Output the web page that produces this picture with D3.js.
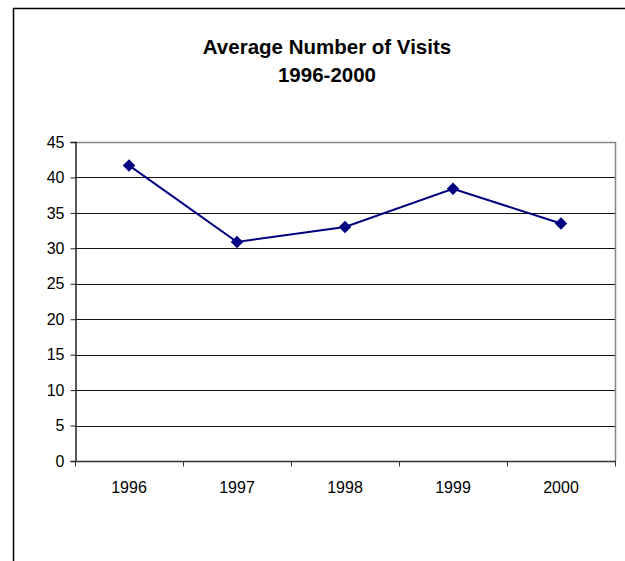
<!DOCTYPE html>
<html>
<head>
<meta charset="utf-8">
<script src="https://cdn.jsdelivr.net/npm/d3@7"></script>
<style>
  body { margin: 0; background: #fff; }
  svg { display: block; font-family: Arial, "Liberation Sans", sans-serif; }
</style>
</head>
<body>
<div id="chart"></div>
<script>
// chart data
var years = ["1996", "1997", "1998", "1999", "2000"];
var visits = [41.7, 30.9, 33.0, 38.4, 33.5];
var yTicks = [0, 5, 10, 15, 20, 25, 30, 35, 40, 45];
var titleLines = ["Average Number of Visits", "1996-2000"];

var svg = d3.select("#chart").append("svg").attr("width", 625).attr("height", 561);

// outer chart border (runs off the right and bottom of the window)
svg.append("rect").attr("x", 13.5).attr("y", 8.5).attr("width", 700).attr("height", 700)
    .attr("fill", "none").attr("stroke", "#000").attr("stroke-width", 1.5);

var plotLeft = 75, plotTop = 142, plotRight = 615, plotBottom = 461;

var x = d3.scaleBand().domain(years).range([plotLeft, plotRight]);
var y = d3.scaleLinear().domain([0, 45]).range([plotBottom, plotTop]);

// title
svg.selectAll("text.title").data(titleLines).enter().append("text")
    .attr("class", "title")
    .attr("x", 327).attr("y", function (d, i) { return 54 + i * 28; })
    .attr("text-anchor", "middle")
    .style("font-size", "20.5px").style("font-weight", "bold")
    .text(function (d) { return d; });

// gridlines
svg.selectAll("line.grid").data(yTicks.filter(function (d) { return d > 0 && d < 45; })).enter().append("line")
    .attr("x1", plotLeft).attr("x2", plotRight)
    .attr("y1", function (d) { return Math.round(y(d)) + 0.5; })
    .attr("y2", function (d) { return Math.round(y(d)) + 0.5; })
    .attr("stroke", "#111").attr("stroke-width", 1);

// plot area border top / right
svg.append("path")
    .attr("d", "M" + plotLeft + "," + (plotTop + 0.5) + "H" + (plotRight + 0.5) + "V" + plotBottom)
    .attr("fill", "none").attr("stroke", "#888").attr("stroke-width", 1.5);

// y axis
var yAxis = d3.axisLeft(y).tickValues(yTicks).tickSize(5).tickPadding(6);
var gy = svg.append("g").attr("transform", "translate(" + (plotLeft + 0.5) + ",0)").call(yAxis);
gy.select(".domain").attr("stroke", "#222").attr("stroke-width", 1.5);
gy.selectAll(".tick line").attr("stroke", "#222");
gy.selectAll(".tick text").style("font-size", "16px").style("font-family", "Arial, 'Liberation Sans', sans-serif").attr("fill", "#000");

// x axis: ticks on category boundaries
var gx = svg.append("g").attr("transform", "translate(0," + (plotBottom + 0.5) + ")");
gx.append("line").attr("x1", plotLeft).attr("x2", plotRight + 1).attr("stroke", "#333").attr("stroke-width", 1.5);
var bounds = years.map(function (d) { return x(d); }).concat([plotRight]);
gx.selectAll("line.tk").data(bounds).enter().append("line")
    .attr("x1", function (d) { return Math.round(d) + 0.5; })
    .attr("x2", function (d) { return Math.round(d) + 0.5; })
    .attr("y1", 0).attr("y2", 5).attr("stroke", "#333");
gx.selectAll("text").data(years).enter().append("text")
    .attr("x", function (d) { return x(d) + x.bandwidth() / 2; })
    .attr("y", 31)
    .attr("text-anchor", "middle")
    .style("font-size", "16px")
    .text(function (d) { return d; });

// series line
var line = d3.line()
    .x(function (d, i) { return x(years[i]) + x.bandwidth() / 2; })
    .y(function (d) { return y(d); });

svg.append("path").datum(visits).attr("d", line)
    .attr("fill", "none").attr("stroke", "#000080").attr("stroke-width", 2);

// diamond markers
var diamond = d3.symbol().type(d3.symbolDiamond2).size(100);
svg.selectAll("path.marker").data(visits).enter().append("path")
    .attr("class", "marker")
    .attr("d", diamond)
    .attr("transform", function (d, i) {
        return "translate(" + (x(years[i]) + x.bandwidth() / 2) + "," + y(d) + ")";
    })
    .attr("fill", "#000080");
</script>
</body>
</html>
